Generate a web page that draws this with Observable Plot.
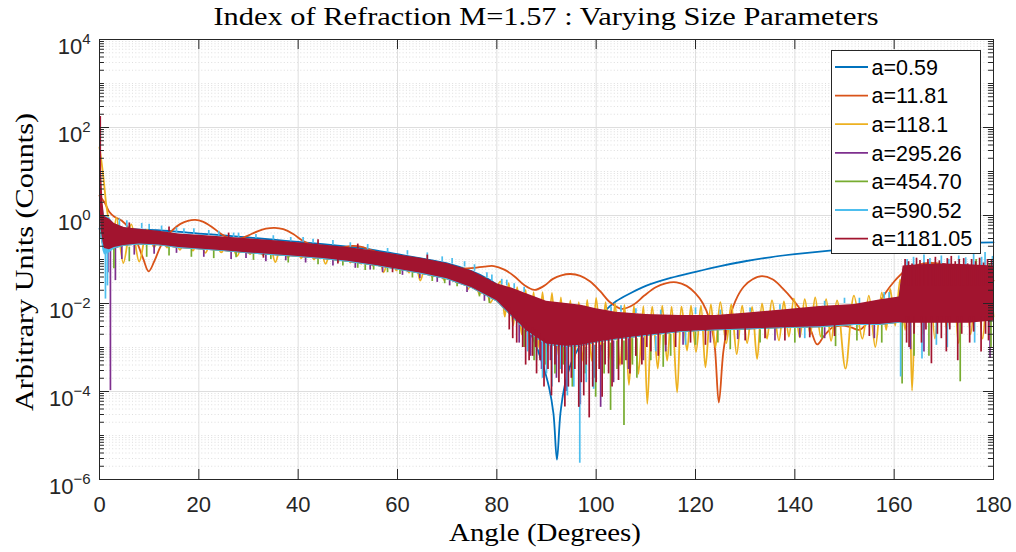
<!DOCTYPE html>
<html><head><meta charset="utf-8">
<script src="https://cdn.jsdelivr.net/npm/d3@7"></script>
<script src="https://cdn.jsdelivr.net/npm/@observablehq/plot@0.6"></script>
<style>body{margin:0;background:#fff}#chart{width:1016px;height:552px}</style>
</head><body><div id="chart"></div>
<script>
// ---------- DATA (values are log10 of the intensity) ----------
const seriesNames = ["a=0.59","a=11.81","a=118.1","a=295.26","a=454.70","a=590.52","a=1181.05"];
const seriesColors = ["#0072BD","#D95319","#EDB120","#7E2F8E","#77AC30","#4DBEEE","#A2142F"];
const xTicks = [0,20,40,60,80,100,120,140,160,180];
const yMajor = [1e-6,1e-4,1e-2,1,1e2,1e4];
const yDecades = [-6,-5,-4,-3,-2,-1,0,1,2,3];
const yMantissas = [1,2,3,4,5,6,7,8,9];

// a=0.59 (smooth)
const blueAng = [0,5,10,15,20,25,30,35,40,45,50,55,60,65,70,75,78,80,82,84,86,87.5,89,90.5,91.4,92.1,92.8,93.7,95,97,99,101.5,104,107,110,115,120,125,130,135,140,147,155,162,170,175,180];
const blueLog = [-0.3,-0.31,-0.33,-0.36,-0.41,-0.45,-0.5,-0.55,-0.6,-0.65,-0.71,-0.78,-0.88,-0.98,-1.09,-1.27,-1.43,-1.58,-1.85,-2.2,-2.5,-2.85,-3.3,-3.9,-4.5,-5.55,-4.5,-3.85,-3.35,-2.9,-2.55,-2.2,-1.95,-1.76,-1.6,-1.42,-1.28,-1.15,-1.04,-0.95,-0.88,-0.8,-0.73,-0.68,-0.64,-0.62,-0.61];

// a=11.81 (smooth oscillation)
const orangeAng = [0,1,2,3,4.5,6,7.5,8.8,9.9,11,12.3,13.7,15,16.3,17.8,19.3,20.8,22.5,24.5,26,27.2,28.5,30,31.8,33.5,35.3,37,39,41,42.8,44.5,46,48.5,51,53,55,56.6,58.6,60.6,63,65.5,68,70.5,73,75.5,77.5,79.4,81.5,83.5,85.5,87.6,89.5,91.3,93,94.8,96.8,98.8,100.8,102.8,105.2,107.5,109.7,112,114,116.2,118.2,120,121.5,122.8,123.8,124.7,125.6,126.6,128,129.7,131.5,133.4,135.5,137.5,139.5,141.5,143.2,144.5,145.8,147.5,149.5,151.5,153,154.5,156.2,158,160,162,164,166,167.5,169.5,172,174.5,177,180];
const orangeLog = [0.45,0.3,0.08,-0.03,-0.12,-0.3,-0.6,-0.98,-1.27,-1.05,-0.7,-0.45,-0.3,-0.19,-0.12,-0.1,-0.14,-0.25,-0.42,-0.51,-0.54,-0.52,-0.45,-0.36,-0.3,-0.28,-0.31,-0.42,-0.58,-0.67,-0.74,-0.78,-0.74,-0.69,-0.72,-0.8,-0.88,-0.97,-1.04,-1.1,-1.14,-1.17,-1.2,-1.21,-1.19,-1.16,-1.15,-1.23,-1.38,-1.58,-1.69,-1.6,-1.44,-1.36,-1.33,-1.37,-1.5,-1.72,-1.97,-2.12,-2.03,-1.82,-1.63,-1.54,-1.52,-1.6,-1.77,-2.0,-2.35,-2.9,-4.25,-3.1,-2.45,-1.95,-1.62,-1.45,-1.38,-1.45,-1.65,-1.9,-2.2,-2.6,-2.93,-2.75,-2.55,-2.5,-2.55,-2.6,-2.45,-2.15,-1.8,-1.5,-1.28,-1.15,-1.09,-1.08,-1.1,-1.15,-1.24,-1.35,-1.48];

// a=118.1 (regular oscillation: alternating maxima and minima)
const yellowAng = [0,0.5,0.9,1.3,1.8,2.5,3.4,4.8,6.4,8.0,9.6,11.0,12.3,13.6,14.9,16.2,17.5,18.8,20.0,21.3,22.9,24.5,26.1,27.7,29.0,30.3,31.6,32.9,34.2,35.4,36.7,38.0,39.3,40.6,41.9,43.2,44.4,45.5,46.8,48.1,49.3,50.5,51.6,52.7,53.9,55.0,56.1,57.2,58.5,59.8,61.1,62.3,63.5,64.6,65.8,67.0,68.2,69.4,70.6,71.8,73.0,74.2,75.4,76.5,77.6,78.7,80.7,81.6,82.4,83.3,84.1,85.0,85.8,86.6,87.4,88.3,89.2,90.1,91.1,92.0,92.9,93.8,94.8,95.6,96.5,97.3,98.2,99.1,100.0,101.0,101.9,102.9,103.8,104.8,105.7,106.6,107.6,108.5,109.5,110.3,111.3,112.4,113.3,114.3,115.2,116.3,117.2,118.3,119.1,120.1,121.1,122.0,123.1,124.0,125.0,126.2,127.2,128.3,129.4,130.4,131.4,132.4,133.4,134.4,135.4,136.8,137.8,138.8,139.8,141.0,142.0,143.1,144.1,145.2,146.3,147.3,148.5,150.2,151.9,153.6,154.9,156.2,157.5,158.4,159.2,160.2,161.2,162.2,163.0,163.6,164.6,165.8,167.0,168.2,169.4,170.6,171.8,173.0,174.2,175.4,176.6,177.8,179.0,180];
const yellowLog = [1.55,1.14,0.75,0.3,-0.1,-0.75,-0.05,-1.08,-0.2,-1.05,-0.32,-0.72,-0.38,-0.73,-0.42,-0.78,-0.45,-0.8,-0.47,-0.85,-0.49,-0.84,-0.52,-0.92,-0.55,-0.88,-0.57,-0.9,-0.59,-1.06,-0.61,-0.95,-0.64,-0.97,-0.66,-1.0,-0.69,-1.1,-0.72,-1.04,-0.75,-1.07,-0.78,-1.1,-0.81,-1.14,-0.85,-1.29,-0.9,-1.25,-0.94,-1.3,-0.99,-1.48,-1.04,-1.4,-1.09,-1.47,-1.15,-1.52,-1.22,-1.67,-1.32,-1.8,-1.42,-1.98,-1.5,-2.3,-1.54,-2.5,-1.63,-2.7,-1.69,-2.9,-1.74,-3.0,-1.74,-3.1,-1.76,-3.2,-1.86,-3.3,-1.93,-3.3,-1.97,-3.3,-1.92,-3.3,-1.87,-3.07,-1.97,-3.3,-2.0,-3.4,-2.03,-3.85,-2.05,-3.6,-2.06,-4.28,-2.07,-3.48,-2.05,-3.3,-2.07,-4.02,-2.07,-3.07,-2.05,-3.1,-2.05,-3.45,-2.02,-3.0,-1.97,-2.9,-2.02,-3.15,-2.05,-2.9,-2.08,-3.26,-2.0,-2.8,-1.93,-2.84,-1.95,-2.75,-1.89,-2.77,-1.9,-2.7,-1.86,-2.75,-1.9,-2.85,-1.93,-3.48,-1.82,-2.8,-1.82,-2.99,-1.75,-2.6,-1.67,-2.5,-1.45,-2.6,-1.2,-3.98,-1.14,-2.7,-1.1,-2.8,-1.1,-2.6,-1.15,-2.9,-1.2,-2.7,-1.3,-2.8,-1.25,-2.3];

// Dense series: upper / lower envelope of the band core, plus individual spikes [angle, from, to]
const bandAng = [0,0.3,0.7,1,2,3,5,8,12,16,20,25,30,36,40,45,50,56,60,65,70,75,80,83,86,90,94,97,100,104,110,117,124,130,138,145,152,157,161,161.8,165,170,175,180];

const purpleHi = [0.9,0.5,0.1,-0.1,-0.12,-0.22,-0.3,-0.34,-0.39,-0.45,-0.48,-0.52,-0.56,-0.61,-0.65,-0.7,-0.76,-0.85,-0.92,-1.01,-1.12,-1.29,-1.59,-1.69,-1.82,-1.99,-2.04,-2.08,-2.16,-2.24,-2.29,-2.31,-2.31,-2.26,-2.18,-2.11,-2.06,-1.96,-1.89,-1.3,-1.28,-1.25,-1.27,-1.3];
const purpleLo = [0.2,-0.5,-0.7,-0.8,-0.8,-0.76,-0.7,-0.67,-0.69,-0.75,-0.78,-0.82,-0.87,-0.92,-0.95,-1.0,-1.06,-1.16,-1.24,-1.34,-1.46,-1.66,-1.96,-2.3,-2.65,-2.95,-3.0,-2.98,-2.9,-2.83,-2.75,-2.66,-2.62,-2.6,-2.57,-2.55,-2.5,-2.5,-2.45,-2.4,-2.4,-2.4,-2.4,-2.35];
const purpleSpikes = [[1.7,-0.7,-1.3],[2.2,-0.75,-3.98],[3.2,-0.75,-1.48],[4.5,-0.7,-1.0],[7,-0.68,-0.9],[11,-0.68,-0.88],[15.5,-0.72,-0.86],[21,-0.77,-0.95],[26.5,-0.82,-1.0],[29.5,-0.84,-0.98],[33.5,-0.88,-1.05],[37.5,-0.91,-1.03],[41.5,-0.95,-1.08],[47,-1.02,-1.15],[51.5,-1.08,-1.2],[54.5,-1.12,-1.24],[57,-1.17,-1.3],[61,-1.25,-1.36],[64.5,-1.32,-1.44],[68,-1.4,-1.52],[70.5,-1.46,-1.6],[74,-1.6,-1.75],[77.5,-1.8,-1.95],[84.5,-2.3,-2.9],[86.8,-2.6,-3.2],[89,-2.8,-3.5],[90.8,-2.85,-3.3],[92,-2.9,-3.7],[94,-3.0,-4.0],[95.3,-3.0,-3.6],[96.8,-3.0,-4.3],[99.6,-2.95,-3.7],[100.9,-2.95,-4.36],[103.5,-2.85,-3.8],[106.5,-2.8,-3.5],[108,-2.78,-3.2],[109.5,-2.78,-3.3],[114,-2.7,-3.1],[117.5,-2.66,-2.95],[123,-2.62,-2.9],[128.5,-2.6,-2.82],[136,-2.57,-2.85],[141,-2.56,-2.78],[146,-2.55,-2.8],[156,-2.5,-2.8],[163.3,-2.3,-3.05],[164.8,-1.6,-1.15],[166,-2.3,-3.1],[170.2,-1.6,-1.1],[175,-1.6,-1.2],[179.3,-2.3,-3.25]];

const greenHi = [0.9,0.5,0.1,-0.1,-0.12,-0.22,-0.3,-0.34,-0.39,-0.45,-0.48,-0.52,-0.56,-0.61,-0.65,-0.7,-0.76,-0.85,-0.92,-1.01,-1.12,-1.29,-1.59,-1.69,-1.82,-1.99,-2.04,-2.08,-2.16,-2.24,-2.29,-2.31,-2.31,-2.26,-2.18,-2.11,-2.06,-1.96,-1.89,-1.3,-1.28,-1.25,-1.27,-1.3];
const greenLo = [0.2,-0.5,-0.72,-0.8,-0.8,-0.76,-0.7,-0.67,-0.69,-0.75,-0.78,-0.82,-0.87,-0.92,-0.95,-1.0,-1.06,-1.16,-1.24,-1.34,-1.46,-1.66,-1.96,-2.3,-2.65,-2.95,-3.0,-2.98,-2.9,-2.83,-2.75,-2.66,-2.62,-2.6,-2.57,-2.55,-2.5,-2.5,-2.45,-2.4,-2.4,-2.4,-2.4,-2.35];
const greenSpikes = [[2.9,-0.7,-1.21],[6,-0.72,-1.05],[9.5,-0.68,-0.95],[14,-0.72,-0.92],[18.5,-0.77,-0.95],[23,-0.8,-0.98],[27.5,-0.84,-0.96],[31,-0.87,-1.02],[34.5,-0.89,-1.0],[38,-0.92,-1.08],[44,-0.98,-1.12],[49,-1.04,-1.15],[52,-1.09,-1.2],[53.5,-1.12,-1.25],[55.2,-1.14,-1.24],[58,-1.2,-1.3],[60.5,-1.24,-1.34],[63,-1.3,-1.42],[67,-1.38,-1.5],[69.5,-1.44,-1.55],[72,-1.5,-1.62],[76.5,-1.7,-1.85],[78.5,-1.8,-2.0],[85.5,-2.4,-3.0],[87.5,-2.7,-3.3],[89.8,-2.85,-3.4],[91.7,-2.9,-3.6],[93.4,-2.95,-3.4],[95.2,-3.0,-3.9],[97.8,-3.0,-3.6],[99.9,-2.95,-4.13],[101.6,-2.9,-3.6],[102.9,-2.9,-4.43],[104.2,-2.85,-3.5],[105.6,-2.85,-4.77],[107.3,-2.8,-3.4],[108.2,-2.8,-3.7],[111,-2.75,-3.3],[113.5,-2.72,-3.45],[115,-2.7,-3.2],[120,-2.65,-2.95],[124.5,-2.62,-2.9],[127,-2.6,-3.05],[133,-2.6,-2.9],[140,-2.57,-2.9],[145.5,-2.5,-2.8],[148.2,-2.5,-2.98],[152.5,-2.5,-2.85],[157.5,-2.5,-2.9],[161.6,-2.3,-3.83],[163.3,-1.6,-1.15],[164,-2.3,-3.2],[167,-2.3,-3.2],[168.8,-1.6,-1.1],[172,-1.6,-1.15],[173.3,-2.3,-3.78],[176.5,-1.6,-1.0],[179.2,-1.6,-1.1],[179.5,-2.3,-3.0]];

const lightHi = [1.0,0.6,0.2,0.0,-0.05,-0.2,-0.28,-0.32,-0.37,-0.43,-0.46,-0.5,-0.54,-0.59,-0.63,-0.68,-0.74,-0.83,-0.9,-0.99,-1.1,-1.27,-1.57,-1.67,-1.8,-1.97,-2.02,-2.06,-2.14,-2.22,-2.27,-2.29,-2.29,-2.24,-2.16,-2.09,-2.04,-1.94,-1.87,-1.3,-1.28,-1.25,-1.27,-1.3];
const lightLo = [0.3,-0.5,-0.8,-0.9,-0.85,-0.76,-0.7,-0.67,-0.69,-0.75,-0.78,-0.82,-0.87,-0.92,-0.95,-1.0,-1.06,-1.16,-1.24,-1.34,-1.46,-1.66,-1.96,-2.3,-2.65,-2.95,-3.0,-2.98,-2.9,-2.83,-2.75,-2.66,-2.62,-2.6,-2.57,-2.55,-2.5,-2.5,-2.45,-2.4,-2.4,-2.4,-2.4,-2.35];
const lightSpikes = [[1.2,-0.7,-1.9],[1.6,-0.7,-1.6],[4,-0.25,-0.08],[5.5,-0.27,-0.12],[8.5,-0.3,-0.18],[10,-0.32,-0.2],[12.5,-0.35,-0.24],[15.5,-0.4,-0.28],[17,-0.42,-0.3],[19,-0.43,-0.3],[22,-0.45,-0.34],[24,-0.47,-0.36],[27,-0.5,-0.4],[28,-0.5,-0.4],[31.5,-0.53,-0.43],[35,-0.56,-0.46],[38.5,-0.6,-0.5],[41,-0.61,-0.5],[43,-0.64,-0.54],[47,-0.68,-0.57],[50.5,-0.72,-0.62],[54,-0.78,-0.66],[58,-0.85,-0.75],[62,-0.9,-0.8],[66,-0.98,-0.85],[69,-1.05,-0.94],[71,-1.1,-0.98],[73.5,-1.17,-1.05],[75.5,-1.27,-1.12],[78,-1.42,-1.3],[79,-1.5,-1.35],[81,-1.58,-1.45],[82,-1.6,-1.47],[83.5,-1.67,-1.55],[85.5,-1.75,-1.63],[86.2,-2.5,-3.1],[88,-2.7,-3.3],[89.2,-2.8,-3.7],[90,-2.9,-3.6],[91.1,-2.9,-3.9],[92.8,-2.95,-3.5],[94.2,-3.0,-4.1],[95.5,-3.0,-3.9],[96.7,-3.0,-5.63],[98,-3.0,-3.8],[99.5,-2.95,-3.95],[103,-2.18,-2.08],[105,-2.2,-2.05],[108,-2.23,-2.12],[112,-2.75,-3.1],[113,-2.26,-2.15],[118,-2.66,-2.95],[120,-2.25,-2.1],[125,-2.26,-2.15],[131,-2.2,-2.1],[137,-2.15,-2.03],[142,-2.56,-2.8],[146,-2.06,-1.95],[150,-2.0,-1.88],[153,-2.0,-1.88],[158,-1.9,-1.75],[159,-1.88,-1.75],[161.3,-2.3,-3.67],[162.6,-1.6,-1.0],[163.9,-1.6,-0.95],[165.6,-2.3,-3.26],[166,-1.6,-0.9],[167.2,-1.6,-0.98],[168.5,-2.3,-2.95],[169.5,-1.6,-0.92],[170.7,-2.3,-3.0],[171,-1.6,-1.0],[173,-1.6,-0.92],[174.4,-1.6,-0.96],[176,-1.6,-0.86],[176.2,-2.3,-2.9],[177.6,-1.6,-0.95],[178.3,-1.6,-0.84],[179.8,-1.6,-0.93]];

const redHi = [2.25,1.2,0.3,-0.02,-0.08,-0.18,-0.27,-0.31,-0.36,-0.42,-0.45,-0.49,-0.53,-0.58,-0.62,-0.67,-0.73,-0.82,-0.89,-0.98,-1.09,-1.26,-1.55,-1.65,-1.78,-1.95,-2.0,-2.04,-2.12,-2.2,-2.25,-2.27,-2.27,-2.22,-2.14,-2.07,-2.02,-1.92,-1.85,-1.15,-1.12,-1.1,-1.12,-1.15];
const redLo = [0.5,-0.3,-0.6,-0.75,-0.78,-0.73,-0.68,-0.65,-0.67,-0.73,-0.76,-0.8,-0.85,-0.9,-0.93,-0.98,-1.04,-1.14,-1.22,-1.32,-1.44,-1.64,-1.94,-2.28,-2.62,-2.92,-2.97,-2.95,-2.88,-2.81,-2.73,-2.64,-2.6,-2.58,-2.55,-2.53,-2.48,-2.48,-2.43,-2.45,-2.45,-2.45,-2.45,-2.4];
const redSpikes = [[0.15,0.2,2.25],[6,-0.3,-0.17],[14,-0.37,-0.26],[26,-0.5,-0.4],[33,-0.88,-0.97],[44,-0.66,-0.55],[48,-1.0,-1.1],[52,-0.76,-0.65],[59,-1.2,-1.3],[66,-1.0,-0.9],
  [82.5,-2.1,-2.6],[83.2,-2.2,-2.8],[84,-2.2,-2.9],[85.2,-2.4,-3.0],[85.8,-2.45,-3.4],[86.5,-2.5,-3.3],[87.2,-2.55,-3.2],[87.8,-2.6,-3.0],[88,-2.6,-3.6],[88.7,-2.7,-3.3],[89.5,-2.8,-3.9],[90.3,-2.85,-3.5],[91,-2.9,-4.1],[91.7,-2.9,-3.4],[92.5,-2.9,-3.8],[93.1,-2.9,-3.6],[93.7,-2.9,-4.35],[94.4,-2.9,-3.9],[95,-2.9,-3.7],[95.7,-2.9,-3.5],[96.5,-2.9,-4.36],[97.0,-2.9,-3.8],[97.5,-2.9,-4.1],[98.0,-2.9,-3.4],[98.6,-2.9,-4.6],[99.3,-2.88,-3.9],[100,-2.85,-3.8],[100.6,-2.85,-3.5],[101.2,-2.85,-4.13],[101.8,-2.82,-3.4],[102.5,-2.8,-3.6],[103.2,-2.8,-3.9],[104.5,-2.75,-3.75],[105.2,-2.73,-3.4],[106,-2.7,-3.3],[106.8,-2.7,-3.6],[108,-2.7,-3.2],[109.2,-2.67,-3.4],[110.2,-2.66,-3.0],[111,-2.65,-3.1],[112.5,-2.64,-3.2],[114,-2.63,-2.95],[116,-2.62,-3.0],[119,-2.6,-2.9],[122,-2.6,-2.95],[126,-2.6,-2.85],[130,-2.57,-2.85],[134,-2.55,-2.8],[138,-2.55,-2.85],[143,-2.55,-2.78],[148,-2.5,-2.75],[155,-2.48,-2.75],
  [162.2,-1.6,-1.0],[162.5,-2.3,-2.9],[162.9,-1.6,-1.05],[163.0,-2.3,-3.0],[163.6,-1.6,-1.1],[164.0,-2.3,-2.7],[164.5,-1.6,-0.97],[165.2,-1.6,-1.02],[165.5,-2.3,-2.9],[166.0,-1.6,-1.08],[166.4,-2.3,-2.6],[166.8,-1.6,-1.0],[167.5,-2.3,-3.37],[167.6,-1.6,-1.12],[168.3,-1.6,-0.95],[168.7,-2.3,-2.7],[169.1,-1.6,-1.03],[169.5,-2.3,-2.8],[169.9,-1.6,-1.1],[170.5,-2.3,-3.1],[170.7,-1.6,-0.98],[171.2,-2.3,-2.6],[171.5,-1.6,-0.93],[172.3,-1.6,-1.05],[172.8,-2.3,-3.3],[173.1,-1.6,-1.0],[173.6,-2.3,-2.7],[174.0,-1.6,-0.98],[174.8,-1.6,-1.1],[175.2,-2.3,-2.9],[175.6,-1.6,-1.0],[176.0,-2.3,-2.65],[176.4,-1.6,-1.05],[177.2,-1.6,-0.97],[177.5,-2.3,-3.1],[178.0,-1.6,-1.08],[178.4,-2.3,-2.7],[178.8,-1.6,-1.0],[179.0,-2.3,-2.85],[179.6,-1.6,-1.02]];

// ---------- BUILD ----------
const val = v => 10 ** v;
const lineRows = (ang, lg) => ang.map((a, i) => ({angle: a, value: val(lg[i])}));
const bandRows = (hi, lo) => bandAng.map((a, i) => ({angle: a, hi: val(hi[i]), lo: val(lo[i])}));
const spikeRows = sp => sp.map(([a, b, t]) => ({angle: a, from: val(b), to: val(t)}));

const yAll = yDecades.flatMap(e => yMantissas.map(m => m * 10 ** e)).concat([1e4]);
const yMinor = yAll.filter(v => !yMajor.some(M => Math.abs(v / M - 1) < 1e-9));

const W = 1016, H = 552, ML = 99, MR = 23, MT = 39, MB = 73;
const tickDecMajor = 10 ** (10 / 44), xMajorTick = 2.01, xMinorTick = 1.0;

const dense = [
  [purpleHi, purpleLo, purpleSpikes, seriesColors[3]],
  [greenHi, greenLo, greenSpikes, seriesColors[4]],
  [lightHi, lightLo, lightSpikes, seriesColors[5]],
  [redHi, redLo, redSpikes, seriesColors[6]]
];

const marks = [
  Plot.ruleY(yMinor, {stroke: "#d6d6d6", strokeWidth: 0.8, strokeDasharray: "1,2.3"}),
  Plot.ruleY(yMajor, {stroke: "#dedede", strokeWidth: 1}),
  Plot.ruleX(xTicks, {stroke: "#dedede", strokeWidth: 1}),
  Plot.line(lineRows(blueAng, blueLog), {x: "angle", y: "value", stroke: seriesColors[0], strokeWidth: 1.8, curve: "catmull-rom"}),
  Plot.line(lineRows(orangeAng, orangeLog), {x: "angle", y: "value", stroke: seriesColors[1], strokeWidth: 1.8, curve: "catmull-rom"}),
  Plot.line(lineRows(yellowAng, yellowLog), {x: "angle", y: "value", stroke: seriesColors[2], strokeWidth: 1.8, curve: "catmull-rom"})
];
for (const [hi, lo, sp, c] of dense) {
  marks.push(Plot.areaY(bandRows(hi, lo), {x: "angle", y1: "lo", y2: "hi", fill: c}));
  marks.push(Plot.ruleX(spikeRows(sp), {x: "angle", y1: "from", y2: "to", stroke: c, strokeWidth: 1.7}));
}
marks.push(
  Plot.frame({stroke: "#262626", strokeWidth: 1}),
  Plot.ruleY(yMajor, {x1: 0, x2: xMajorTick, stroke: "#262626"}),
  Plot.ruleY(yMajor, {x1: 180 - xMajorTick, x2: 180, stroke: "#262626"}),
  Plot.ruleY(yMinor, {x1: 0, x2: xMinorTick, stroke: "#262626"}),
  Plot.ruleY(yMinor, {x1: 180 - xMinorTick, x2: 180, stroke: "#262626"}),
  Plot.ruleX(xTicks, {y1: 1e-6, y2: 1e-6 * tickDecMajor, stroke: "#262626"}),
  Plot.ruleX(xTicks, {y1: 1e4 / tickDecMajor, y2: 1e4, stroke: "#262626"}),
  Plot.axisX(xTicks, {tickSize: 0, tickPadding: 17, fontSize: 22, color: "#262626", label: null}),
  Plot.axisY(yMajor, {tickSize: 0, tickPadding: 9, fontSize: 22, color: "#262626", label: null,
    tickFormat: d => String(Math.round(Math.log10(d)))})
);

const plot = Plot.plot({
  width: W, height: H, marginLeft: ML, marginRight: MR, marginTop: MT, marginBottom: MB,
  style: {fontFamily: "'Liberation Sans', Arial, sans-serif", background: "#fff", overflow: "visible"},
  x: {domain: [0, 180]},
  y: {type: "log", domain: [1e-6, 1e4]},
  marks
});
document.getElementById("chart").appendChild(plot);

const svg = d3.select(plot);
svg.selectAll('g[aria-label="y-axis tick label"] text').each(function () {
  const t = d3.select(this);
  const e = t.text().replace("-", "\u2212");
  t.text("");
  t.append("tspan").attr("dy", 7).text("10");
  t.append("tspan").attr("dy", -10).attr("font-size", 15).text(e);
});

const serif = "'Liberation Serif', 'Times New Roman', serif";
const addText = (x, y, txt, len, tr) => {
  const t = svg.append("text").attr("text-anchor", "middle").attr("font-family", serif)
    .attr("font-size", 25.5).attr("fill", "#000").attr("textLength", len)
    .attr("lengthAdjust", "spacingAndGlyphs").text(txt);
  if (tr) t.attr("transform", tr); else t.attr("x", x).attr("y", y);
  return t;
};
addText(546, 24.5, "Index of Refraction M=1.57 : Varying Size Parameters", 665);
addText(545, 541, "Angle (Degrees)", 192);
addText(0, 0, "Arbitrary Units (Counts)", 298, "translate(33,262) rotate(-90)");

const lg = svg.append("g");
lg.append("rect").attr("x", 831.5).attr("y", 50.5).attr("width", 149).attr("height", 203)
  .attr("fill", "#fff").attr("stroke", "#262626").attr("stroke-width", 1);
seriesNames.forEach((n, i) => {
  const cy = 67 + i * 28.6;
  lg.append("line").attr("x1", 835).attr("x2", 868).attr("y1", cy).attr("y2", cy)
    .attr("stroke", seriesColors[i]).attr("stroke-width", 1.8);
  lg.append("text").attr("x", 871.5).attr("y", cy).attr("dy", "0.36em").attr("text-anchor", "start")
    .attr("font-size", 21.5).attr("fill", "#000").text(n);
});
</script></body></html>
